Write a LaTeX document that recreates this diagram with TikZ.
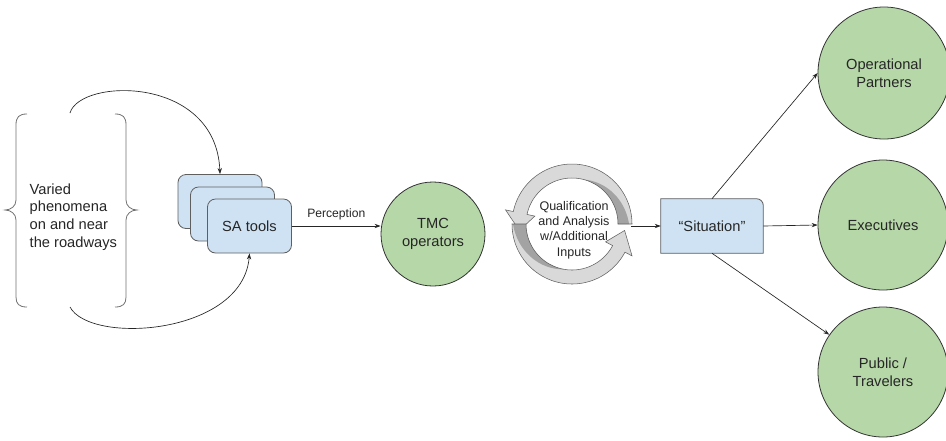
\documentclass[tikz,border=0pt]{standalone}
\usepackage{fontspec}
\setmainfont{Liberation Sans}
\usetikzlibrary{arrows.meta,calc}
\definecolor{boxblue}{HTML}{CFE2F3}
\definecolor{circgreen}{HTML}{B6D7A8}
\definecolor{lightg}{HTML}{D9D9D9}
\definecolor{darkg}{HTML}{A3A3A3}
\definecolor{edgeg}{HTML}{5F5F5F}
\definecolor{txt}{HTML}{262626}
\newcommand\cyctoppath{plot[domain=0:168,samples=60] ({572+60*cos(\x)},{224-60*sin(\x)}) -- ({572+68*cos(168)},{224-68*sin(168)}) -- ({572+53*cos(187)},{224-53*sin(187)}) -- ({572+38*cos(168)},{224-38*sin(168)}) -- plot[domain=168:0,samples=60] ({572+46*cos(\x)},{224-46*sin(\x)}) -- cycle}
\newcommand\cycbotpath{plot[domain=180:332,samples=60] ({572+60*cos(\x)},{224-60*sin(\x)}) -- ({572+68*cos(332)},{224-68*sin(332)}) -- ({572+53*cos(353)},{224-53*sin(353)}) -- ({572+38*cos(332)},{224-38*sin(332)}) -- plot[domain=332:180,samples=60] ({572+46*cos(\x)},{224-46*sin(\x)}) -- cycle}
\begin{document}
\begin{tikzpicture}[x=0.75pt,y=-0.75pt,
  every node/.style={text=txt},
  mainfont/.style={font=\fontsize{11}{13.2}\selectfont},
  satool/.style={draw=edgeg, fill=boxblue, rounded corners=6pt, minimum width=63pt, minimum height=40.5pt, line width=0.6pt, mainfont},
  actor/.style={circle, draw=black!80, fill=circgreen, line width=0.6pt, align=center, mainfont, inner sep=0pt},
  conn/.style={-{Stealth[length=4.5pt,width=3.2pt]}, line width=0.5pt, draw=black!85},
  bracestyle/.style={draw=black!55, line width=0.6pt},
]
\useasboundingbox (0,0) rectangle (946,440);
\fill[white] (0,0) rectangle (946,440);

% braces
\draw[bracestyle] (27,114) .. controls (19,114) and (16,117) .. (16,125) -- (16,200) .. controls (16,206) and (11,210) .. (5,210) .. controls (11,210) and (16,214) .. (16,220) -- (16,297) .. controls (16,304) and (19,307) .. (27,307);
\draw[bracestyle] (115,114) .. controls (123,114) and (126,117) .. (126,125) -- (126,200) .. controls (126,206) and (131,210) .. (137,210) .. controls (131,210) and (126,214) .. (126,220) -- (126,297) .. controls (126,304) and (123,307) .. (115,307);
\node[anchor=west, align=left, mainfont] (phen) at (25,217) {Varied\\phenomena\\on and near\\the roadways};

% SA tools
\node[satool] (back) at (220,201.5) {};
\node[satool] (mid) at (232.5,214) {};
\node[satool] (front) at (249.5,226) {SA tools};

\coordinate (topstart) at (70,113);
\coordinate (botstart) at (70,307);
\draw[conn] (topstart) .. controls (80,78) and (216,75) .. (back.north);
\draw[conn] (botstart) .. controls (90,345) and (243,335) .. (front.south);

% TMC
\node[actor, minimum size=78pt] (tmc) at (433,234) {TMC\\operators};
\draw[conn] (front.east) -- node[above=1pt, font=\fontsize{9.1}{11}\selectfont] (perc) {Perception} (front.east -| tmc.west);

% cycle
\fill[lightg] \cyctoppath;
\fill[darkg] plot[domain=0:75,samples=40] ({572+(46+11*(1-\x/75))*cos(\x)},{224-(46+11*(1-\x/75))*sin(\x)}) -- plot[domain=75:0,samples=40] ({572+46*cos(\x)},{224-46*sin(\x)}) -- cycle;
\draw[edgeg, line width=0.4pt] \cyctoppath;
\fill[lightg] \cycbotpath;
\fill[darkg] plot[domain=180:260,samples=40] ({572+(46+13*(1-(\x-180)/80))*cos(\x)},{224-(46+13*(1-(\x-180)/80))*sin(\x)}) -- plot[domain=260:180,samples=40] ({572+46*cos(\x)},{224-46*sin(\x)}) -- cycle;
\draw[edgeg, line width=0.4pt] \cycbotpath;
\node[align=center, font=\fontsize{9.4}{11.5}\selectfont] (qual) at (574,230) {Qualification\\and Analysis\\w/Additional\\Inputs};
\coordinate (cycout) at (631,226);

% Situation
\node[minimum width=76.5pt, minimum height=40.5pt, inner sep=0pt] (sit) at (712,226) {};
\path[fill=boxblue, draw=edgeg, line width=0.6pt] (sit.south west) -- (sit.north west) -- ([xshift=-5pt]sit.north east) to[out=0,in=90] ([yshift=-5pt]sit.north east) -- (sit.south east) -- cycle;
\node[mainfont] (sittext) at (sit.center) {“Situation”};
\draw[conn] (cycout) -- (sit.west);

% audiences
\node[actor, minimum size=99pt] (op) at (884,73) {Operational\\Partners};
\node[actor, minimum size=97.5pt] (exec) at (883,225) {Executives};
\node[actor, minimum size=97.5pt] (pub) at (883,372) {Public /\\Travelers};
\draw[conn] (sit.north) -- (op.west);
\draw[conn] (sit.east) -- (exec.west);
\draw[conn] (sit.south) -- (pub);
\end{tikzpicture}
\end{document}
